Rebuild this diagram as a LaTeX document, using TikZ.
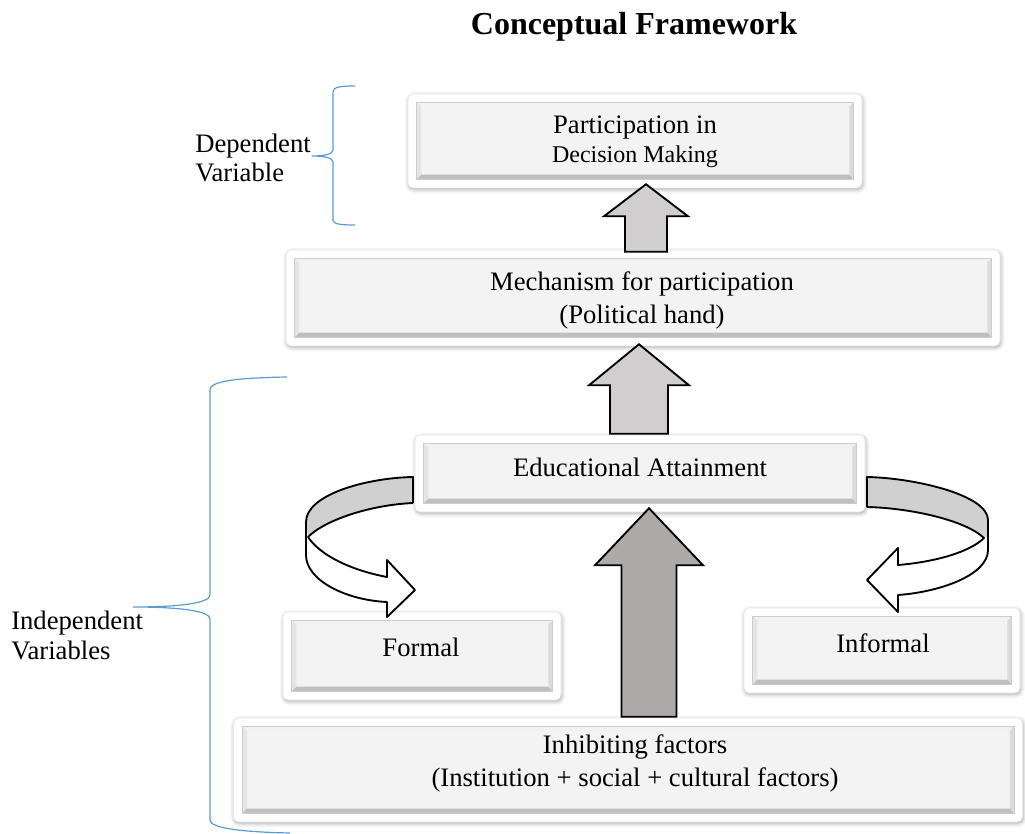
\documentclass[tikz,border=0pt]{standalone}
\usepackage{fontspec}
\setmainfont{Liberation Serif}
\usetikzlibrary{shadows.blur,calc}
\definecolor{bracec}{HTML}{5B9BD5}
\definecolor{arrlight}{HTML}{D0CECE}
\definecolor{arrdark}{HTML}{AEAAAA}
\definecolor{bandc}{HTML}{D0D0D0}
\definecolor{facec}{HTML}{F3F3F3}
\tikzset{
  boxstyle/.style 2 args={minimum width=#1*0.75pt, minimum height=#2*0.75pt, inner sep=0pt,
    rounded corners=4pt, fill=white, draw=gray!18, line width=0.4pt,
    blur shadow={shadow xshift=0.6pt, shadow yshift=-1.2pt, shadow blur radius=3pt, shadow opacity=35},
    path picture={
      \begin{scope}[sharp corners]
      \coordinate (pa) at ([shift={(6.5pt,-6.5pt)}]path picture bounding box.north west);
      \coordinate (pb) at ([shift={(-6.5pt,-6.5pt)}]path picture bounding box.north east);
      \coordinate (pc) at ([shift={(-6.5pt,6.5pt)}]path picture bounding box.south east);
      \coordinate (pd) at ([shift={(6.5pt,6.5pt)}]path picture bounding box.south west);
      \coordinate (qa) at ([shift={(3.5pt,-2.5pt)}]pa);
      \coordinate (qb) at ([shift={(-3pt,-2.5pt)}]pb);
      \coordinate (qc) at ([shift={(-3pt,3.5pt)}]pc);
      \coordinate (qd) at ([shift={(3.5pt,3.5pt)}]pd);
      \fill[facec] (pa) rectangle (pc);
      \fill[gray!10] (pa) -- (pb) -- (qb) -- (qa) -- cycle;
      \fill[gray!20] (pa) -- (qa) -- (qd) -- (pd) -- cycle;
      \fill[gray!28] (pb) -- (pc) -- (qc) -- (qb) -- cycle;
      \fill[gray!50] (pd) -- (pc) -- (qc) -- (qd) -- cycle;
      \draw[gray!40, line width=0.3pt] (pa) rectangle (pc);
      \end{scope}
    }},
  blockline/.style={draw=black, line width=1.4pt, line join=miter},
  bandline/.style={draw=black, line width=1.4pt, line join=round},
  bracel/.style={draw=bracec, line width=0.9pt},
  txt/.style={inner sep=0pt, align=center, font=\fontsize{20}{24.75}\selectfont},
  sidetxt/.style={inner sep=0pt, align=left, anchor=west, font=\fontsize{20}{22}\selectfont},
}
\newcommand\blockup[6]{%
  \draw[blockline, fill=#6] let \p1=(#1), \p2=(#2) in
    (\x1,\y1) -- (\x1+#4*0.75pt,\y1-#5*0.75pt) -- (\x1+#3*0.75pt,\y1-#5*0.75pt)
    -- (\x1+#3*0.75pt,\y2) -- (\x1-#3*0.75pt,\y2) -- (\x1-#3*0.75pt,\y1-#5*0.75pt)
    -- (\x1-#4*0.75pt,\y1-#5*0.75pt) -- cycle;}
\begin{document}
\begin{tikzpicture}[x=0.75pt,y=-0.75pt]
\useasboundingbox (0,0) rectangle (1025,834);

% title
\node[inner sep=0pt, font=\fontsize{24}{28}\selectfont\bfseries] (title) at (634,27) {Conceptual Framework};

% braces
\draw[bracel] (355,86) .. controls (340,86) and (333,87) .. (333,92) -- (333,150)
  .. controls (333,154) and (325,156) .. (312,156) .. controls (325,156) and (333,158) .. (333,162)
  -- (333,220) .. controls (333,224) and (340,225) .. (355,225);
\draw[bracel] (287,377) .. controls (230,378) and (210,382) .. (210,390) -- (210,595)
  .. controls (210,603) and (180,607) .. (133,607) .. controls (180,607) and (210,611) .. (210,619)
  -- (210,820) .. controls (210,828) and (240,832) .. (290,833);
\node[sidetxt, font=\fontsize{20}{21.75}\selectfont] (dep) at (195,157.5) {Dependent\\Variable};
\node[sidetxt, font=\fontsize{20}{22.5}\selectfont] (indep) at (11,635) {Independent\\Variables};

% boxes
\node[boxstyle={454}{94}] (top) at (635,141) {};
\node[boxstyle={714}{96}] (mech) at (643,298) {};
\node[boxstyle={450}{77}] (edu) at (640,473.5) {};
\node[boxstyle={278}{88}] (formal) at (422,656) {};
\node[boxstyle={276}{85}] (informal) at (882,650.5) {};
\node[boxstyle={789}{104}] (inhib) at (628,770) {};

% box texts
\node[txt, font=\fontsize{20}{21.75}\selectfont] (ttop) at (635,142) {Participation in\\{\fontsize{18}{21.75}\selectfont Decision Making}};
\node[txt] (tmech) at (642,300) {Mechanism for participation\\(Political hand)};
\node[txt] (tedu) at (640,467) {Educational Attainment};
\node[txt] (tformal) at (421,647) {Formal};
\node[txt] (tinformal) at (883,643) {Informal};
\node[txt] (tinhib) at (635,763) {Inhibiting factors\\(Institution + social + cultural factors)};

% straight block arrows
\coordinate (aTip) at ($(top.south)+(11,-4)$);
\coordinate (aFoot) at ($(mech.north)+(3,2)$);
\coordinate (bTip) at ($(mech.south)+(-4,-2)$);
\coordinate (bFoot) at ($(edu.north)+(-1,-1)$);
\coordinate (cTip) at ($(edu.south)+(9,-4)$);
\coordinate (cFoot) at ($(inhib.north)+(21,-1)$);
\blockup{aTip}{aFoot}{21}{42}{32}{arrlight}
\blockup{bTip}{bFoot}{29}{50}{41}{arrlight}
\blockup{cTip}{cFoot}{27.5}{54}{57}{arrdark}

% left curved arrow
\fill[bandc] (413,477) .. controls (365,478) and (306,495) .. (306,522) -- (308,537)
  .. controls (325,520) and (370,505) .. (413,503) -- cycle;
\fill[white] (306,522) -- (306,555) .. controls (306,580) and (345,600) .. (387,602)
  -- (387,617) -- (415,590) -- (387,560) -- (387,577)
  .. controls (350,570) and (320,555) .. (308,537) -- cycle;
\draw[bandline] (413,503) -- (413,477) .. controls (365,478) and (306,495) .. (306,522) -- (306,555)
  .. controls (306,580) and (345,600) .. (387,602) -- (387,617) -- (415,590) -- (387,560) -- (387,577)
  .. controls (350,570) and (320,555) .. (308,537) .. controls (325,520) and (370,505) .. (413,503);

% right curved arrow
\fill[bandc] (867,477) .. controls (915,478) and (988,495) .. (988,520) -- (988,538) -- (984,538)
  .. controls (965,520) and (910,508) .. (867,507) -- cycle;
\fill[white] (988,536) -- (988,550) .. controls (988,575) and (940,592) .. (898,595)
  -- (898,612) -- (867,580) -- (898,548) -- (898,565)
  .. controls (935,562) and (970,552) .. (984,538) -- cycle;
\draw[bandline] (867,507) -- (867,477) .. controls (915,478) and (988,495) .. (988,520) -- (988,550)
  .. controls (988,575) and (940,592) .. (898,595) -- (898,612) -- (867,580) -- (898,548) -- (898,565)
  .. controls (935,562) and (970,552) .. (984,538) .. controls (965,520) and (910,508) .. (867,507);
\end{tikzpicture}
\end{document}
